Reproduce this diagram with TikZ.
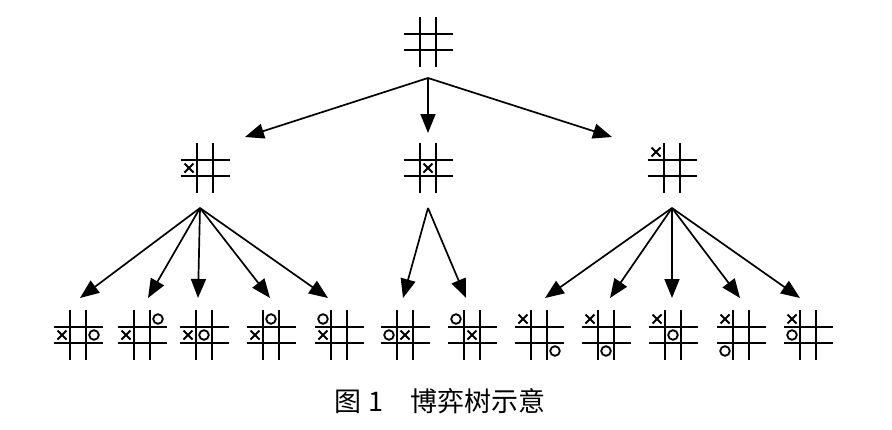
\documentclass[tikz,border=0pt]{standalone}
\usepackage{fontspec}
\newfontfamily\cjk{Noto Sans CJK SC}
\usetikzlibrary{arrows.meta,calc}
\tikzset{
  gridline/.style={line width=2.2pt},
  pmark/.style={line width=1.8pt},
  arr/.style={line width=1.7pt,-{Triangle[length=19pt,width=15pt]}},
  pics/board/.style={code={
    \draw[gridline] (-24.5,-8) -- (24.5,-8) (-24.5,8) -- (24.5,8) (-8,-25) -- (-8,25) (8,-25) -- (8,25);
  }},
}
\newcommand{\xm}[3]{\draw[pmark] ($(#1)+(#2*16-16-4.5,#3*16-16-4.5)$) -- ++(9,9) ($(#1)+(#2*16-16-4.5,#3*16-16+4.5)$) -- ++(9,-9);}
\newcommand{\om}[3]{\draw[pmark] ($(#1)+(#2*16-16,#3*16-16)$) circle (4.8);}
\begin{document}
\begin{tikzpicture}[x=1pt,y=-1pt]
\useasboundingbox (0,0) rectangle (892,429);
\coordinate (r) at (428,42);
\coordinate (a) at (205,168); \coordinate (b) at (428,168); \coordinate (c) at (672,168);
\foreach \n/\x in {1/78,2/142,3/204,4/271,5/339,6/405,7/472,8/539,9/606,10/673,11/741,12/808}
  \coordinate (l\n) at (\x,335);
\foreach \p in {r,a,b,c,l1,l2,l3,l4,l5,l6,l7,l8,l9,l10,l11,l12} \pic at (\p) {board};
\xm{a}{0}{1} \xm{b}{1}{1} \xm{c}{0}{0}
\xm{l1}{0}{1}\om{l1}{2}{1}
\xm{l2}{0}{1}\om{l2}{2}{0}
\xm{l3}{0}{1}\om{l3}{1}{1}
\xm{l4}{0}{1}\om{l4}{1}{0}
\xm{l5}{0}{1}\om{l5}{0}{0}
\xm{l6}{1}{1}\om{l6}{0}{1}
\xm{l7}{1}{1}\om{l7}{0}{0}
\xm{l8}{0}{0}\om{l8}{2}{2}
\xm{l9}{0}{0}\om{l9}{1}{2}
\xm{l10}{0}{0}\om{l10}{1}{1}
\xm{l11}{0}{0}\om{l11}{0}{2}
\xm{l12}{0}{0}\om{l12}{0}{1}
\coordinate (rs) at (428,78);
\coordinate (as) at (200,208); \coordinate (bs) at (428,208); \coordinate (cs) at (672,208);
\draw[arr] (rs) -- (245,137);
\draw[arr] (rs) -- (428,133);
\draw[arr] (rs) -- (612,137);
\foreach \t in {80,148,198,270,328} \draw[arr] (as) -- (\t,298);
\foreach \t in {403,466} \draw[arr] (bs) -- (\t,298);
\foreach \t in {545,610,672,740,800} \draw[arr] (cs) -- (\t,298);
\node[font=\cjk\fontsize{27}{30}\selectfont] (cap) at (440,401) {图 1\quad 博弈树示意};
\end{tikzpicture}
\end{document}
